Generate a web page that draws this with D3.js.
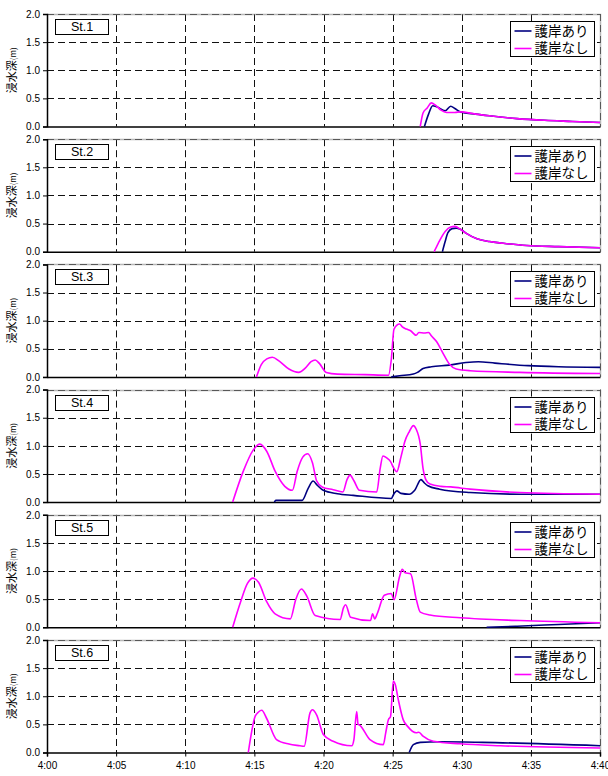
<!DOCTYPE html>
<html>
<head>
<meta charset="utf-8">
<script src="https://cdn.jsdelivr.net/npm/d3@7"></script>
<style>
  body { margin:0; background:#fff; }
  svg text { font-family: "Liberation Sans", Arial, sans-serif; }
  .jp { font-family: "Noto Sans CJK JP", sans-serif; }
</style>
</head>
<body>
<svg id="chart" width="608" height="776"></svg>
<script>
/* ---- data: [minutes after 4:00, depth (m)] ---- */
const stations = ["St.1","St.2","St.3","St.4","St.5","St.6"];
const seriesNames = ["護岸あり","護岸なし"];
const xTicks = [0,5,10,15,20,25,30,35,40];
const yTicks = [0,0.5,1.0,1.5,2.0];

const st1Ari   = [[27.3,0],[27.6,0.22],[27.9,0.37],[28.2,0.35],[28.8,0.28],[29.2,0.36],[29.5,0.32],[29.9,0.26],[31,0.22],[32,0.19],[34,0.14],[36,0.11],[38,0.09],[40,0.07]];
const st1Nashi = [[27.0,0],[27.2,0.24],[27.5,0.33],[27.8,0.42],[28.1,0.38],[28.5,0.29],[28.9,0.25],[29.5,0.25],[29.9,0.26],[31,0.22],[32,0.19],[34,0.14],[36,0.11],[38,0.09],[40,0.07]];
const st2Ari   = [[28.6,0],[28.8,0.18],[29.0,0.34],[29.3,0.41],[29.6,0.42],[29.9,0.40],[30.3,0.33],[31.1,0.23],[32,0.18],[33,0.15],[34.7,0.11],[37,0.09],[40,0.07]];
const st2Nashi = [[28.0,0],[28.3,0.15],[28.8,0.36],[29.2,0.44],[29.5,0.45],[29.9,0.40],[30.3,0.33],[31.1,0.23],[32,0.18],[33,0.15],[34.7,0.11],[37,0.09],[40,0.07]];
const st3Ari   = [[24.9,0],[25.5,0.02],[26.5,0.05],[26.8,0.08],[27.2,0.15],[27.8,0.18],[29.1,0.21],[30.3,0.255],[31.2,0.27],[32.4,0.245],[34.8,0.2],[37,0.18],[40,0.17]];
const st3Nashi = [[15.15,0],[15.5,0.22],[15.9,0.32],[16.3,0.35],[16.8,0.28],[17.5,0.14],[18.2,0.08],[18.7,0.16],[19.1,0.27],[19.4,0.30],[19.7,0.24],[20.2,0.08],[21,0.05],[23,0.04],[24.7,0.03],[24.9,0.3],[25.1,0.85],[25.5,0.94],[25.7,0.89],[26.0,0.85],[26.3,0.82],[26.7,0.74],[26.9,0.79],[27.3,0.78],[27.6,0.79],[27.8,0.73],[28.2,0.62],[28.6,0.44],[29.1,0.23],[29.6,0.14],[30.6,0.11],[34.2,0.08],[40,0.06]];
const st4Ari   = [[16.45,0],[16.55,0.03],[18.45,0.03],[18.9,0.25],[19.25,0.375],[19.55,0.3],[19.98,0.21],[21,0.15],[22.15,0.12],[24.9,0.065],[25.1,0.15],[25.3,0.2],[25.6,0.155],[26.2,0.14],[26.6,0.21],[27.05,0.40],[27.3,0.34],[27.55,0.29],[28.4,0.23],[30.6,0.17],[34.2,0.14],[40,0.14]];
const st4Nashi = [[13.43,0],[14.2,0.55],[14.9,0.92],[15.4,1.03],[15.9,0.9],[16.5,0.55],[17.2,0.28],[17.75,0.21],[18.1,0.55],[18.5,0.8],[18.85,0.86],[19.2,0.7],[19.5,0.38],[19.9,0.27],[20.7,0.22],[21.4,0.18],[21.7,0.4],[21.92,0.48],[22.2,0.38],[22.6,0.21],[23.85,0.18],[24.1,0.6],[24.3,0.82],[24.6,0.78],[24.85,0.72],[25.05,0.62],[25.3,0.54],[25.6,0.8],[25.9,1.09],[26.2,1.25],[26.5,1.36],[26.7,1.3],[27.0,1.03],[27.2,0.6],[27.4,0.4],[27.7,0.32],[28.5,0.28],[29.2,0.27],[30.6,0.23],[34.2,0.17],[40,0.14]];
const st5Ari   = [[31.8,0],[34,0.02],[37,0.05],[40,0.08]];
const st5Nashi = [[13.43,0],[14.0,0.45],[14.5,0.78],[14.9,0.875],[15.3,0.8],[15.9,0.45],[16.5,0.24],[17.6,0.15],[18.0,0.5],[18.4,0.68],[18.8,0.55],[19.4,0.21],[21.2,0.14],[21.45,0.35],[21.6,0.4],[21.96,0.18],[23.4,0.12],[23.55,0.24],[23.7,0.15],[23.9,0.25],[24.4,0.57],[24.9,0.6],[25.1,0.49],[25.5,0.9],[25.7,1.03],[25.9,0.97],[26.3,0.95],[26.7,0.51],[27.0,0.27],[27.7,0.22],[29.9,0.17],[34.2,0.12],[40,0.08]];
const st6Ari   = [[26.2,0],[26.5,0.14],[27.0,0.18],[28.4,0.19],[31.5,0.18],[40,0.12]];
const st6Nashi = [[14.56,0],[15.05,0.64],[15.3,0.72],[15.53,0.75],[15.9,0.6],[16.6,0.23],[17.5,0.15],[18.3,0.12],[18.6,0.11],[19.02,0.70],[19.2,0.76],[19.5,0.67],[19.99,0.32],[20.7,0.2],[22.04,0.12],[22.2,0.23],[22.4,0.73],[22.5,0.5],[22.6,0.49],[23.36,0.23],[24.33,0.14],[24.5,0.35],[24.69,0.58],[24.85,0.64],[25.05,1.27],[25.2,1.2],[25.41,0.94],[25.77,0.58],[26.1,0.46],[26.7,0.35],[26.9,0.36],[27.2,0.29],[27.94,0.2],[29.9,0.155],[32.8,0.12],[40,0.08]];

const ariSeries   = [st1Ari, st2Ari, st3Ari, st4Ari, st5Ari, st6Ari];
const nashiSeries = [st1Nashi, st2Nashi, st3Nashi, st4Nashi, st5Nashi, st6Nashi];
const colors = ["#000080","#ff00ff"];

/* ---- layout ---- */
const left = 47, right = 600, top0 = 14, step = 125.2, ph = 112.5;
const svg = d3.select("#chart");
const x = d3.scaleLinear().domain([0,40]).range([left,right]);
const fmt = m => "4:" + String(m).padStart(2,"0");
const crisp = v => Math.round(v) + 0.5;

stations.forEach((name, i) => {
  const top = top0 + i*step;
  const y = d3.scaleLinear().domain([0,2]).range([top+ph, top]);
  const g = svg.append("g");

  // dashed grid
  g.selectAll(".hg").data(yTicks.filter(d=>d>0)).enter().append("line")
    .attr("x1",left).attr("x2",right).attr("y1",d=>crisp(y(d))).attr("y2",d=>crisp(y(d)))
    .attr("stroke","#111").attr("stroke-dasharray","7,4").attr("stroke-width",1);
  g.selectAll(".vg").data(xTicks.filter(d=>d>0)).enter().append("line")
    .attr("x1",d=>crisp(x(d))).attr("x2",d=>crisp(x(d))).attr("y1",top).attr("y2",top+ph)
    .attr("stroke","#111").attr("stroke-dasharray","7,4").attr("stroke-width",1);
  // faint frame top/right
  g.append("path").attr("d",`M${left},${crisp(top)}H${crisp(right)}V${top+ph}`)
    .attr("fill","none").attr("stroke","#888").attr("stroke-width",1.5).attr("opacity",0.6);

  // axes
  g.append("g").attr("transform",`translate(${left},0)`)
    .call(d3.axisLeft(y).tickValues(yTicks).tickFormat(d3.format(".1f")).tickSize(4).tickPadding(3))
    .call(a => a.select(".domain").attr("stroke-width",1.5))
    .call(a => a.selectAll("text").attr("font-size",10).attr("fill","#000")
      .attr("font-family","'Liberation Sans', Arial, sans-serif"));
  const xa = g.append("g").attr("transform",`translate(0,${top+ph})`)
    .call(d3.axisBottom(x).tickValues(xTicks).tickFormat(fmt).tickSize(i===5?4:0).tickPadding(5))
    .call(a => a.select(".domain").attr("stroke-width",1.5))
    .call(a => a.selectAll("text").attr("font-size",10).attr("fill","#000")
      .attr("font-family","'Liberation Sans', Arial, sans-serif"));
  if (i < 5) xa.selectAll("text").remove();

  // y label
  const yl = g.append("text").attr("class","jp")
    .attr("transform",`translate(16,${top+ph/2}) rotate(-90)`)
    .attr("text-anchor","middle").attr("font-size",11);
  yl.append("tspan").text("浸水深");
  yl.append("tspan").attr("font-size",8).text("(m)");

  // station label box
  g.append("rect").attr("x",55.5).attr("y",crisp(top+5)).attr("width",53).attr("height",15)
    .attr("fill","#fff").attr("stroke","#000").attr("stroke-width",1);
  g.append("text").attr("x",82).attr("y",top+17).attr("text-anchor","middle")
    .attr("font-size",12.5).text(name);

  // lines
  const line = d3.line().x(d=>x(d[0])).y(d=>y(d[1])).curve(d3.curveMonotoneX);
  [ariSeries[i], nashiSeries[i]].forEach((data, k) => {
    g.append("path").datum(data).attr("d",line).attr("fill","none")
      .attr("stroke",colors[k]).attr("stroke-width",1.6).attr("stroke-linejoin","round");
  });

  // legend
  const lx = 510.5, ly = crisp(top+7);
  g.append("rect").attr("x",lx).attr("y",ly).attr("width",84).attr("height",35)
    .attr("fill","#fff").attr("stroke","#000").attr("stroke-width",1);
  seriesNames.forEach((s,k) => {
    const yy = ly + 9.5 + k*17.5;
    g.append("line").attr("x1",lx+4).attr("x2",lx+21).attr("y1",yy).attr("y2",yy)
      .attr("stroke",colors[k]).attr("stroke-width",1.6);
    g.append("text").attr("class","jp").attr("x",lx+24).attr("y",yy+4.8)
      .attr("font-size",13.5).text(s);
  });
});
</script>
</body>
</html>
